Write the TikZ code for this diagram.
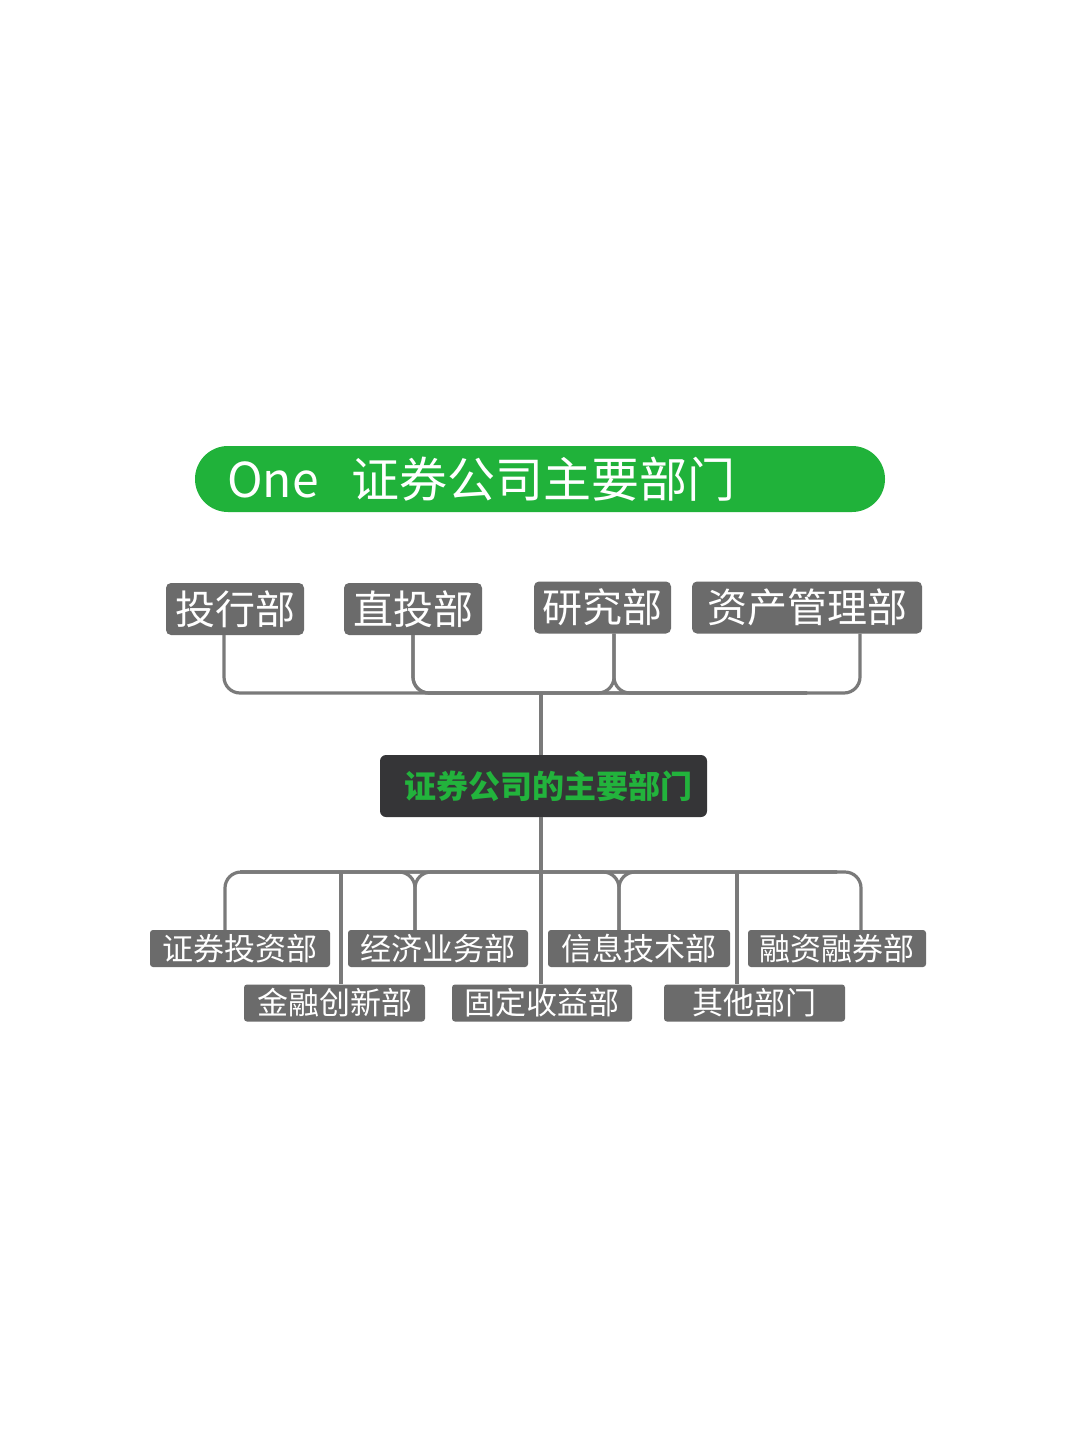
\documentclass[tikz,border=0pt]{standalone}
\usepackage{fontspec}
\newfontfamily\cjk{Noto Sans CJK SC}
\definecolor{titlegreen}{HTML}{20B23A}
\definecolor{boxgray}{HTML}{6B6B6B}
\definecolor{linegray}{HTML}{7A7A7A}
\definecolor{darkbox}{HTML}{353537}
\definecolor{textgreen}{HTML}{22B33C}
\begin{document}
\begin{tikzpicture}[x=1pt,y=-1pt,
  topbox/.style={fill=boxgray,rounded corners=5pt,text=white,inner sep=0pt,
    font=\cjk\fontsize{40}{40}\selectfont,minimum height=52pt},
  botbox/.style={fill=boxgray,rounded corners=3pt,text=white,inner sep=0pt,
    font=\cjk\fontsize{31}{31}\selectfont,minimum height=37pt,minimum width=180pt},
  conn/.style={draw=linegray,line width=3.2pt,rounded corners=16pt},
  straight/.style={draw=linegray,line width=3.2pt}]
\useasboundingbox (0,0) rectangle (1080,1439);
\fill[white] (0,0) rectangle (1080,1439);
% title
\node[fill=titlegreen,rounded corners=33pt,minimum width=690pt,minimum height=66pt,inner sep=0pt] (title) at (540,479) {};
\node[anchor=west,text=white,font=\cjk\fontsize{48}{48}\selectfont,inner sep=0pt] (titletext) at (227,479) {One\hspace{33pt}证券公司主要部门};
% top boxes
\node[topbox,minimum width=138pt] (t1) at (235,609) {投行部};
\node[topbox,minimum width=138pt] (t2) at (413,609) {直投部};
\node[topbox,minimum width=137pt] (t3) at (602.5,607.5) {研究部};
\node[topbox,minimum width=230pt] (t4) at (807,607.5) {资产管理部};
% center
\node[fill=darkbox,rounded corners=6pt,minimum width=327pt,minimum height=62pt,inner sep=0pt,
  text=textgreen,font=\cjk\bfseries\fontsize{32}{32}\selectfont] (c) at (543.5,786) {\hspace*{10pt}证券公司的主要部门};
% bottom row 1
\node[botbox] (b1) at (240,948.5) {证券投资部};
\node[botbox] (b2) at (438,948.5) {经济业务部};
\node[botbox,minimum width=182pt] (b3) at (639,948.5) {信息技术部};
\node[botbox,minimum width=178pt] (b4) at (837,948.5) {融资融券部};
% bottom row 2
\node[botbox,minimum width=181pt] (r1) at (334.5,1003) {金融创新部};
\node[botbox] (r2) at (542,1003) {固定收益部};
\node[botbox,minimum width=181pt] (r3) at (754.5,1003) {其他部门};
% coordinates for bus lines
\coordinate (topbus) at (541,693);
\coordinate (botbus) at (541,872);
% top connectors
\draw[conn] (t1.south -| 224,0) |- (topbus) -| (t4.south -| 860,0);
\draw[conn] (t2.south) |- (topbus);
\draw[conn] (t2.south) |- (t4.south |- topbus);
\draw[conn] (t3.south -| 614,0) |- (topbus);
\draw[conn] (t3.south -| 614,0) |- (t4.south |- topbus);
\draw[straight] (topbus) -- (c.north -| topbus);
% bottom connectors
\draw[straight] (c.south -| botbus) -- (r2.north -| botbus);
\draw[conn] (b1.north -| 225,0) |- (botbus) -| (b4.north -| 861,0);
\draw[conn] (b2.north -| 415,0) |- (b1.north |- botbus);
\draw[conn] (b2.north -| 415,0) |- (b4.north |- botbus);
\draw[conn] (b3.north -| 619,0) |- (b1.north |- botbus);
\draw[conn] (b3.north -| 619,0) |- (b4.north |- botbus);
\draw[straight] (botbus -| 341,0) -- (r1.north -| 341,0);
\draw[straight] (botbus -| 737,0) -- (r3.north -| 737,0);
\end{tikzpicture}
\end{document}
